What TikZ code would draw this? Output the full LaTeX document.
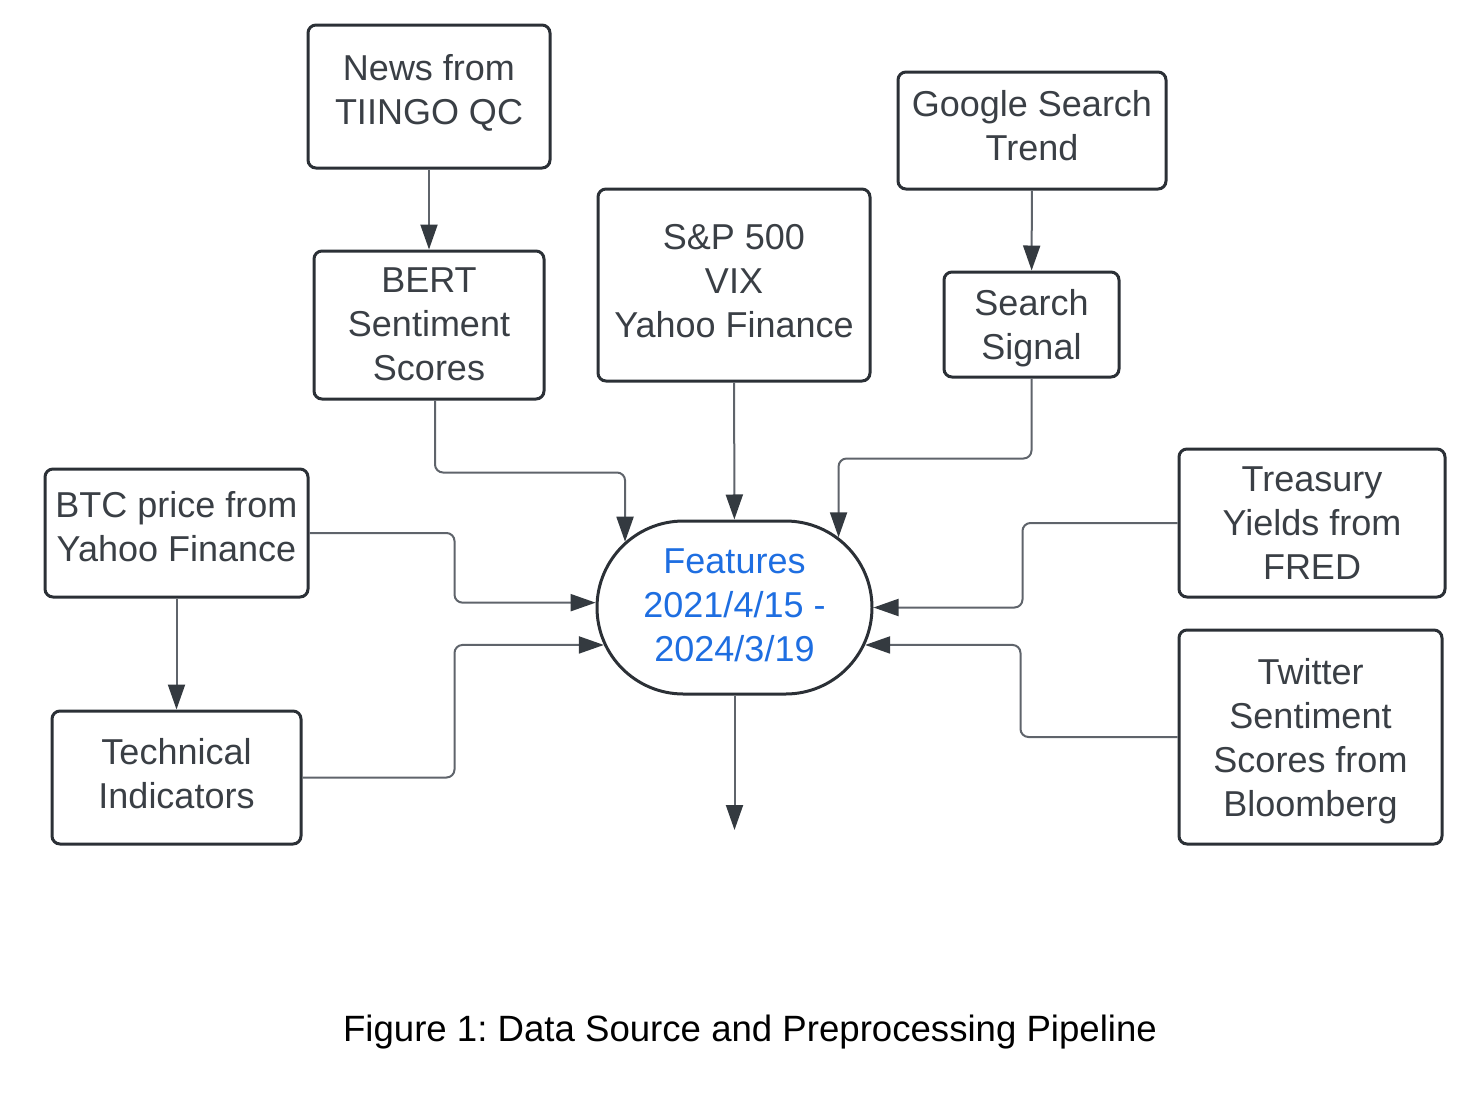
\documentclass[tikz,border=0pt]{standalone}
\usepackage{fontspec}
\setmainfont{Liberation Sans}
\usetikzlibrary{arrows.meta,shapes.misc,calc}
\definecolor{boxline}{HTML}{2B3036}
\definecolor{boxtext}{HTML}{3A3F45}
\definecolor{connline}{HTML}{5F646B}
\definecolor{tipcol}{HTML}{343A40}
\definecolor{featblue}{HTML}{1E6EE1}
\frenchspacing
\begin{document}
\begin{tikzpicture}[x=0.5pt,y=-0.5pt,
  srcbox/.style={draw=boxline, line width=1.5pt, rounded corners=4pt, inner sep=0pt},
  boxlabel/.style={align=center, inner sep=0pt, text=boxtext, font=\fontsize{18}{22}\selectfont},
  conn/.style={draw=connline, line width=1pt, rounded corners=4pt,
    -{Triangle[length=12.5pt,width=8.5pt,color=tipcol]}},
]
\useasboundingbox (0,0) rectangle (1474,1094);
% boxes
\node[srcbox, minimum width=121pt, minimum height=71.5pt] (news) at (429,96.5) {};
\node[srcbox, minimum width=115pt, minimum height=74pt] (bert) at (429,325) {};
\node[srcbox, minimum width=136pt, minimum height=96pt] (sp) at (734,285) {};
\node[srcbox, minimum width=134pt, minimum height=58.5pt] (google) at (1032,130.5) {};
\node[srcbox, minimum width=87.5pt, minimum height=52.5pt] (search) at (1031.5,324.5) {};
\node[srcbox, minimum width=131.5pt, minimum height=64pt] (btc) at (176.5,533) {};
\node[srcbox, minimum width=124.5pt, minimum height=66.5pt] (tech) at (176.5,777.5) {};
\node[srcbox, minimum width=133pt, minimum height=74pt] (treas) at (1312,523) {};
\node[srcbox, minimum width=131.5pt, minimum height=107pt] (twit) at (1310.5,737) {};
\node[draw=boxline, line width=1.5pt, rounded rectangle, inner sep=0pt,
  minimum width=137.5pt, minimum height=86.5pt] (feat) at (734.5,607.5) {};
% texts
\node[boxlabel] (newsT) at ($(news)+(0,-4)$) {News from\\TIINGO QC};
\node[boxlabel] (bertT) at ($(bert)+(0,-1)$) {BERT\\Sentiment\\Scores};
\node[boxlabel] (spT) at ($(sp)+(0,-4)$) {S\&P 500\\VIX\\Yahoo Finance};
\node[boxlabel] (googleT) at ($(google)+(0,-5)$) {Google Search\\Trend};
\node[boxlabel] (searchT) at ($(search)+(0,4)$) {Search\\Signal};
\node[boxlabel] (btcT) at ($(btc)+(0,-6)$) {BTC price from\\Yahoo Finance};
\node[boxlabel] (techT) at ($(tech)+(0,-4)$) {Technical\\Indicators};
\node[boxlabel] (treasT) at (treas) {Treasury\\Yields from\\FRED};
\node[boxlabel] (twitT) at ($(twit)+(0,4)$) {Twitter\\Sentiment\\Scores from\\Bloomberg};
\node[boxlabel, text=featblue] (featT) at ($(feat)+(0,-2)$) {Features\\2021/4/15 -\\2024/3/19};
\coordinate (out) at (734.5,830);
\node[font=\fontsize{18.3}{22}\selectfont, text=black] (cap) at (750,1032) {Figure 1: Data Source and Preprocessing Pipeline};

% connectors
\draw[conn] (news) -- (bert);
\draw[conn] (google) -- (search);
\draw[conn] (btc) -- (tech);
\draw[conn] (sp) -- (feat);
\draw[conn] ($(bert.south)+(6,0)$) -- ++(0,72) -| (feat.149.5);
\draw[conn] (search.south) -- ++(0,80) -| (feat.34.4);
\draw[conn] (btc.east) -- ++(145,0) |- (feat.178.75);
\draw[conn] (tech.east) -- ++(152,0) |- (feat.196);
\draw[conn] (treas.west) -- ++(-155,0) |- (feat.0);
\draw[conn] (twit.west) -- ++(-157,0) |- (feat.344.5);
\draw[conn] (feat.south) -- (out);
\end{tikzpicture}
\end{document}
